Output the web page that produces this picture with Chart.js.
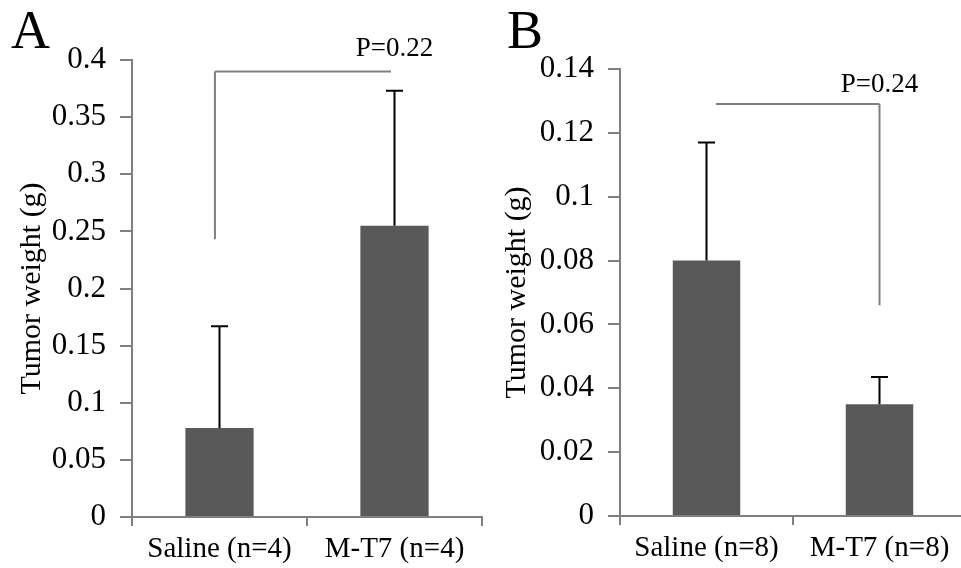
<!DOCTYPE html>
<html>
<head>
<meta charset="utf-8">
<script src="https://cdn.jsdelivr.net/npm/chart.js@4.4.0/dist/chart.umd.min.js"></script>
<style>
  html, body { margin: 0; padding: 0; background: #ffffff; overflow: hidden; width: 961px; height: 568px; }
  .panel { position: absolute; top: 0; height: 568px; }
  .letter { position: absolute; font-family: "Liberation Serif", "Times New Roman", serif; font-size: 54px; line-height: 54px; color: #000; }
</style>
</head>
<body>
<div class="letter" style="left:11px; top:3px;">A</div>
<div class="letter" style="left:507px; top:3px;">B</div>
<div class="panel" style="left:0px; width:485px;"><canvas id="chartA"></canvas></div>
<div class="panel" style="left:485px; width:482px;"><canvas id="chartB"></canvas></div>
<script>
// ---------- Panel A data ----------
const categoriesA = ['Saline (n=4)', 'M-T7 (n=4)'];
const meansA = [0.078, 0.255];
const errorsA = [0.089, 0.118];
const yTickValuesA = [0, 0.05, 0.1, 0.15, 0.2, 0.25, 0.3, 0.35, 0.4];
const yTickLabelsA = ['0', '0.05', '0.1', '0.15', '0.2', '0.25', '0.3', '0.35', '0.4'];
const bracketSpanA = [-0.026, 0.98];   // category-index positions
const bracketLevelA = 0.39;
const bracketLegEndA = 0.243;
const bracketLegSideA = 0;             // 0 = leg at left end
const pLabelA = 'P=0.22';
const pLabelValueA = 0.4035;
const pLabelCatA = 1;

// ---------- Panel B data ----------
const categoriesB = ['Saline (n=8)', 'M-T7 (n=8)'];
const meansB = [0.080, 0.035];
const errorsB = [0.037, 0.0085];
const yTickValuesB = [0, 0.02, 0.04, 0.06, 0.08, 0.1, 0.12, 0.14];
const yTickLabelsB = ['0', '0.02', '0.04', '0.06', '0.08', '0.1', '0.12', '0.14'];
const bracketSpanB = [0.055, 1.0];
const bracketLevelB = 0.129;
const bracketLegEndB = 0.066;
const bracketLegSideB = 1;             // 1 = leg at right end
const pLabelB = 'P=0.24';
const pLabelValueB = 0.1328;
const pLabelCatB = 1;

const SERIF = '"Liberation Serif", "Times New Roman", serif';
const AXIS_GRAY = '#7f7f7f';
const BAR_GRAY = '#595959';

Chart.defaults.font.family = SERIF;
Chart.defaults.color = '#000000';

const annotPlugin = {
  id: 'annot',
  afterDatasetsDraw(chart, args, opts) {
    const ctx = chart.ctx;
    const xs = chart.scales.x, ys = chart.scales.y;
    const px = f => { const p0 = xs.getPixelForValue(0), p1 = xs.getPixelForValue(1); return p0 + f * (p1 - p0); };
    ctx.save();
    // error bars (upper only)
    ctx.strokeStyle = '#000000';
    ctx.lineWidth = 2;
    opts.means.forEach((m, i) => {
      const x = xs.getPixelForValue(i);
      const yTop = ys.getPixelForValue(m);
      const yErr = ys.getPixelForValue(m + opts.errors[i]);
      ctx.beginPath();
      ctx.moveTo(x, yTop); ctx.lineTo(x, yErr);
      ctx.moveTo(x - 8.5, yErr); ctx.lineTo(x + 8.5, yErr);
      ctx.stroke();
    });
    // significance bracket
    ctx.strokeStyle = '#808080';
    ctx.lineWidth = 2;
    const xa = px(opts.span[0]), xb = px(opts.span[1]);
    const yl = ys.getPixelForValue(opts.level);
    const yleg = ys.getPixelForValue(opts.legEnd);
    const xleg = opts.legSide === 0 ? xa : xb;
    ctx.beginPath();
    ctx.moveTo(xa, yl); ctx.lineTo(xb, yl);
    ctx.moveTo(xleg, yl); ctx.lineTo(xleg, yleg);
    ctx.stroke();
    // P label
    ctx.fillStyle = '#000000';
    ctx.font = '27px ' + SERIF;
    ctx.textAlign = 'center';
    ctx.textBaseline = 'alphabetic';
    ctx.fillText(opts.label, xs.getPixelForValue(opts.labelCat), ys.getPixelForValue(opts.labelValue));
    ctx.restore();
  }
};

function makeChart(id, cats, means, errors, tickVals, tickLabels, yMax, pad, yWidth, xHeight, annot) {
  return new Chart(document.getElementById(id), {
    type: 'bar',
    data: {
      labels: cats,
      datasets: [{ data: means, backgroundColor: BAR_GRAY, borderWidth: 0, barPercentage: 0.39, categoryPercentage: 1.0 }]
    },
    options: {
      responsive: true,
      maintainAspectRatio: false,
      animation: false,
      layout: { padding: pad },
      plugins: { legend: { display: false }, tooltip: { enabled: false }, annot: annot },
      scales: {
        x: {
          offset: true,
          grid: { display: true, drawOnChartArea: false, drawTicks: true, tickLength: 9, offset: true, color: AXIS_GRAY, lineWidth: 2 },
          border: { display: true, color: AXIS_GRAY, width: 2 },
          ticks: { font: { size: 29 }, color: '#000', padding: 6, maxRotation: 0, autoSkip: false },
          afterFit: s => { s.height = xHeight; }
        },
        y: {
          min: 0, max: yMax,
          grid: { display: true, drawOnChartArea: false, drawTicks: true, tickLength: 12, color: AXIS_GRAY, lineWidth: 2 },
          border: { display: true, color: AXIS_GRAY, width: 2 },
          afterBuildTicks: s => { s.ticks = tickVals.map(v => ({ value: v })); },
          ticks: { font: { size: 31 }, color: '#000', padding: 14, callback: (v, i) => tickLabels[i] },
          title: { display: true, text: 'Tumor weight (g)', font: { size: 30 }, color: '#000', padding: { top: 14, bottom: 0 } },
          afterFit: s => { s.width = yWidth; }
        }
      }
    },
    plugins: [annotPlugin]
  });
}

makeChart('chartA', categoriesA, meansA, errorsA, yTickValuesA, yTickLabelsA, 0.4,
  { left: 0, top: 60, right: 3, bottom: 0 }, 132, 51,
  { means: meansA, errors: errorsA, span: bracketSpanA, level: bracketLevelA, legEnd: bracketLegEndA, legSide: bracketLegSideA, label: pLabelA, labelValue: pLabelValueA, labelCat: pLabelCatA });

makeChart('chartB', categoriesB, meansB, errorsB, yTickValuesB, yTickLabelsB, 0.14,
  { left: 0, top: 69, right: 1, bottom: 0 }, 135, 52,
  { means: meansB, errors: errorsB, span: bracketSpanB, level: bracketLevelB, legEnd: bracketLegEndB, legSide: bracketLegSideB, label: pLabelB, labelValue: pLabelValueB, labelCat: pLabelCatB });
</script>
</body>
</html>
